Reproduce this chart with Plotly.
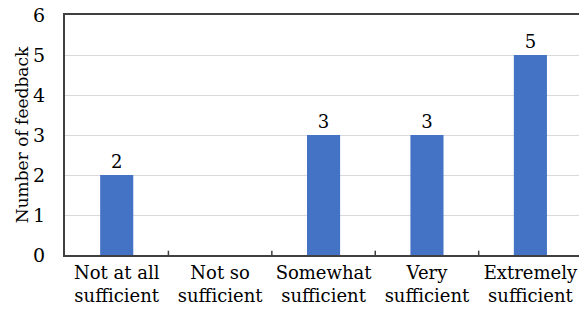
import plotly.graph_objects as go

categories = ["Not at all<br>sufficient", "Not so<br>sufficient", "Somewhat<br>sufficient",
              "Very<br>sufficient", "Extremely<br>sufficient"]
feedback_counts = [2, 0, 3, 3, 5]
bar_labels = ["2", "", "3", "3", "5"]
y_ticks = [0, 1, 2, 3, 4, 5, 6]

font_family = "DejaVu Serif"

fig = go.Figure(
    go.Bar(
        x=list(range(len(categories))),
        y=feedback_counts,
        text=bar_labels,
        textposition="outside",
        textfont=dict(family=font_family, size=18, color="black"),
        cliponaxis=False,
        marker=dict(color="#4472C4", line=dict(width=0)),
        width=0.32,
    )
)

fig.update_layout(
    width=579,
    height=322,
    margin=dict(l=65, r=0, t=15, b=67),
    paper_bgcolor="white",
    plot_bgcolor="white",
    showlegend=False,
    font=dict(family=font_family, size=18, color="black"),
    xaxis=dict(
        tickmode="array",
        tickvals=list(range(len(categories))),
        ticktext=categories,
        range=[-0.5, 4.47],
        showline=True,
        linecolor="#404040",
        linewidth=2,
        mirror=True,
        showgrid=False,
        ticks="",
        tickfont=dict(family=font_family, size=18),
    ),
    yaxis=dict(
        range=[0, 6],
        tickvals=y_ticks,
        showline=True,
        linecolor="#404040",
        linewidth=2,
        showgrid=True,
        gridcolor="#d9d9d9",
        gridwidth=1,
        zeroline=False,
        ticks="",
        ticklabelstandoff=14,
        tickfont=dict(family=font_family, size=19),
        title=dict(text="Number of feedback", font=dict(family=font_family, size=17), standoff=0),
    ),
)

# small inside tick marks on the category boundaries
for b in [0.5, 1.5, 2.5, 3.5]:
    fig.add_shape(type="line", xref="x", yref="paper", x0=b, x1=b, y0=0, y1=0.018,
                  line=dict(color="#404040", width=1.5))

fig.write_html("out.html")
